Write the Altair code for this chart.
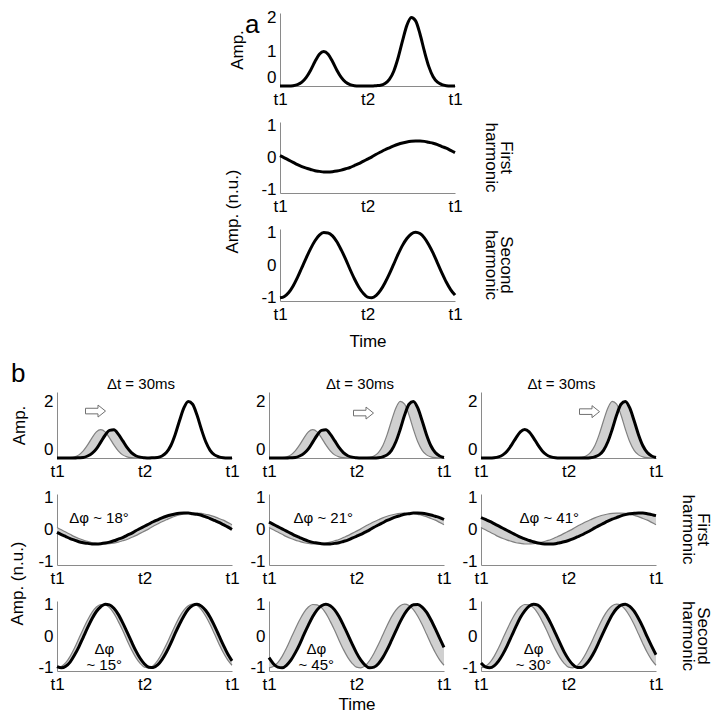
import json
import altair as alt
import pandas as pd

FONT = "Liberation Sans"
GRAY = "#808080"
FILL = "#d0d0d0"

# ---- data (x in fractions of the t1..t1 window) ----
x_tick_values = [0, 0.5, 1]
x_tick_labels = ["t1", "t2", "t1"]
xs = [i / 40 for i in range(41)]

amp_orig = [0, 0, 0, 0.01, 0.04, 0.11, 0.25, 0.46, 0.71, 0.92, 1.00, 0.92, 0.71, 0.46, 0.25,
            0.11, 0.04, 0.01, 0, 0, 0, 0, 0.01, 0.02, 0.07, 0.19, 0.43, 0.82, 1.31, 1.76, 1.99,
            1.89, 1.51, 1.01, 0.57, 0.27, 0.11, 0.04, 0.01, 0, 0]
amp_b1 = [0, 0, 0, 0, 0, 0.01, 0.02, 0.07, 0.16, 0.32, 0.56, 0.80, 0.97, 0.99, 0.84,
          0.61, 0.37, 0.19, 0.08, 0.03, 0.01, 0, 0.01, 0.02, 0.07, 0.19, 0.43, 0.82, 1.31, 1.76,
          1.99, 1.89, 1.51, 1.01, 0.57, 0.27, 0.11, 0.04, 0.01, 0, 0]
amp_b2 = [0, 0, 0, 0, 0, 0.01, 0.02, 0.07, 0.16, 0.32, 0.56, 0.80, 0.97, 0.99, 0.84,
          0.61, 0.37, 0.19, 0.08, 0.03, 0.01, 0, 0, 0, 0, 0.01, 0.04, 0.11, 0.27, 0.57,
          1.01, 1.51, 1.89, 1.99, 1.76, 1.31, 0.82, 0.43, 0.19, 0.07, 0.02]
amp_b3 = [0, 0, 0, 0.01, 0.04, 0.11, 0.25, 0.46, 0.71, 0.92, 1.00, 0.92, 0.71, 0.46, 0.25,
          0.11, 0.04, 0.01, 0, 0, 0, 0, 0, 0, 0, 0.01, 0.04, 0.11, 0.27, 0.57,
          1.01, 1.51, 1.89, 1.99, 1.76, 1.31, 0.82, 0.43, 0.19, 0.07, 0.02]

h1_orig = [0.06, -0.01, -0.08, -0.15, -0.22, -0.28, -0.33, -0.37, -0.41, -0.43, -0.45, -0.45,
           -0.44, -0.42, -0.39, -0.35, -0.31, -0.25, -0.19, -0.12, -0.05, 0.02, 0.10, 0.17,
           0.24, 0.30, 0.36, 0.41, 0.45, 0.48, 0.50, 0.51, 0.51, 0.50, 0.47, 0.44, 0.40, 0.34,
           0.29, 0.22, 0.15]
h1_b1 = [-0.09, -0.16, -0.22, -0.28, -0.33, -0.38, -0.41, -0.43, -0.45, -0.45, -0.44, -0.42,
         -0.39, -0.35, -0.30, -0.25, -0.18, -0.12, -0.04, 0.03, 0.10, 0.17, 0.24, 0.30, 0.36,
         0.41, 0.45, 0.48, 0.50, 0.51, 0.51, 0.49, 0.47, 0.44, 0.39, 0.34, 0.28, 0.22, 0.15,
         0.08, 0.00]
h1_b2 = [0.23, 0.16, 0.09, 0.02, -0.05, -0.12, -0.19, -0.25, -0.31, -0.36, -0.40, -0.42,
         -0.44, -0.45, -0.45, -0.43, -0.41, -0.37, -0.33, -0.27, -0.21, -0.15, -0.08, -0.01,
         0.07, 0.14, 0.21, 0.28, 0.34, 0.39, 0.43, 0.47, 0.49, 0.51, 0.51, 0.50, 0.48, 0.45,
         0.41, 0.37, 0.31]
h1_b3 = [0.37, 0.31, 0.25, 0.18, 0.11, 0.04, -0.03, -0.10, -0.17, -0.24, -0.29, -0.34, -0.38,
         -0.42, -0.44, -0.45, -0.45, -0.44, -0.41, -0.38, -0.34, -0.29, -0.23, -0.17, -0.10,
         -0.03, 0.05, 0.12, 0.19, 0.26, 0.32, 0.37, 0.42, 0.46, 0.49, 0.50, 0.51, 0.51, 0.49,
         0.46, 0.43]

h2_orig = [-1.00, -0.96, -0.84, -0.64, -0.38, -0.08, 0.22, 0.50, 0.74, 0.91, 0.99, 0.98, 0.89,
           0.71, 0.46, 0.18, -0.13, -0.42, -0.67, -0.86, -0.98, -1.00, -0.93, -0.77, -0.54,
           -0.27, 0.03, 0.33, 0.60, 0.81, 0.95, 1.00, 0.96, 0.83, 0.62, 0.36, 0.06, -0.24,
           -0.52, -0.75, -0.92]
h2_b1 = [-0.96, -1.00, -0.95, -0.82, -0.60, -0.34, -0.04, 0.26, 0.54, 0.77, 0.92, 1.00, 0.98,
         0.87, 0.68, 0.42, 0.13, -0.17, -0.46, -0.70, -0.88, -0.98, -0.99, -0.91, -0.74, -0.51,
         -0.23, 0.08, 0.37, 0.63, 0.84, 0.96, 1.00, 0.94, 0.80, 0.59, 0.32, 0.02, -0.28, -0.56,
         -0.78]
h2_b2 = [-0.68, -0.87, -0.98, -1.00, -0.92, -0.76, -0.53, -0.26, 0.05, 0.34, 0.61, 0.82, 0.95,
         1.00, 0.95, 0.82, 0.61, 0.34, 0.05, -0.25, -0.53, -0.76, -0.92, -1.00, -0.98, -0.87,
         -0.68, -0.43, -0.14, 0.16, 0.45, 0.70, 0.88, 0.98, 0.99, 0.91, 0.75, 0.51, 0.23, -0.07,
         -0.36]
h2_b3 = [-0.85, -0.97, -1.00, -0.94, -0.79, -0.57, -0.30, 0.00, 0.30, 0.58, 0.79, 0.94, 1.00,
         0.97, 0.84, 0.64, 0.38, 0.09, -0.21, -0.50, -0.73, -0.90, -0.99, -0.99, -0.89, -0.71,
         -0.47, -0.18, 0.12, 0.41, 0.67, 0.86, 0.97, 1.00, 0.93, 0.78, 0.55, 0.28, -0.03, -0.32,
         -0.59]

dt_text = ["Δt = 30ms", "Δt = 30ms", "Δt = 30ms"]
dt_x = [0.48, 0.52, 0.46]
dt_y = [2.6, 2.6, 2.6]
arrow_x = [0.22, 0.54, 0.62]
arrow_y = [1.65, 1.58, 1.63]
dphi1_text = ["Δφ ~ 18°", "Δφ ~ 21°", "Δφ ~ 41°"]
dphi1_x = [0.24, 0.31, 0.39]
dphi1_y = [0.36, 0.36, 0.36]
dphi2_text = ["Δφ\n~ 15°", "Δφ\n~ 45°", "Δφ\n~ 30°"]
dphi2_x = [0.27, 0.27, 0.30]
dphi2_y = [-0.4, -0.4, -0.4]

# ---- layout constants (pixels) ----
PW = 175          # plot width
CELL = 186        # grid cell width
A_OFF = 11        # panel a plot offset inside its cell
FS = 17           # tick / title font size

label_expr = "%s[indexof(%s, datum.value)]" % (json.dumps(x_tick_labels), json.dumps(x_tick_values))


def xaxis(title, tpad):
    return alt.Axis(values=x_tick_values, labelExpr=label_expr, title=title,
                    labelFlush=False, labelPadding=5, titlePadding=tpad)


def panel(gray, black, ydom, yvals, height, xoff=0, ytitle="", ytitle_x=-34, ytitle_y=None,
          xtitle="", xtpad=7, title=None, texts=None, arrows=None):
    xscale = alt.Scale(domain=[0, 1], range=[xoff, xoff + PW], nice=False, zero=False)
    df = pd.DataFrame({"x": xs, "black": black})
    if gray is not None:
        df["gray"] = gray
    kw = dict(values=yvals, labelExpr="'' + datum.value", title=ytitle, titleX=ytitle_x,
              labelFlush=True, offset=-xoff)
    if ytitle_y is not None:
        kw["titleY"] = ytitle_y
    yaxis = alt.Axis(**kw)
    yscale = alt.Scale(domain=ydom, nice=False, zero=False)

    def X(f="x"):
        return alt.X(f + ":Q", scale=xscale, axis=xaxis(xtitle, xtpad))

    def Y(f):
        return alt.Y(f + ":Q", scale=yscale, axis=yaxis)

    base = alt.Chart(df)
    layers = []
    if gray is not None:
        layers.append(base.mark_area(color=FILL, opacity=1, interpolate="monotone")
                      .encode(x=X(), y=Y("gray"), y2="black"))
        layers.append(base.mark_line(color=GRAY, strokeWidth=1.2, interpolate="monotone")
                      .encode(x=X(), y=Y("gray")))
    layers.append(base.mark_line(color="black", strokeWidth=3, interpolate="monotone")
                  .encode(x=X(), y=Y("black")))
    if texts is not None:
        tdf = pd.DataFrame({"x": [texts[0]], "y": [texts[1]], "t": [texts[2]]})
        layers.append(alt.Chart(tdf).mark_text(font=FONT, fontSize=15, color="black",
                                               lineBreak="\n", lineHeight=16)
                      .encode(x=X(), y=Y("y"), text="t:N"))
    if arrows is not None:
        adf = pd.DataFrame({"x": [arrows[0]], "y": [arrows[1]]})
        layers.append(alt.Chart(adf).mark_point(
            shape="M-1,-0.28L0.25,-0.28L0.25,-0.6L1,0L0.25,0.6L0.25,0.28L-1,0.28Z",
            filled=True, fill="white", stroke="#707070", strokeWidth=1, size=400, opacity=1)
            .encode(x=X(), y=Y("y")))
    ch = alt.layer(*layers).properties(width=CELL, height=height)
    if title is not None:
        ch = ch.properties(title=title)
    return ch


def right_title(lines, offset):
    return alt.TitleParams(text=lines, orient="right", anchor="middle", angle=90, frame="group",
                           offset=offset, fontSize=FS, font=FONT, fontWeight="normal",
                           lineHeight=15)


def letter(t, dx, dy):
    return alt.TitleParams(t, orient="top", anchor="start", frame="group", offset=0, dx=dx, dy=dy,
                           baseline="alphabetic", fontSize=26, font=FONT, fontWeight="normal")


def blank(height):
    return alt.Chart(pd.DataFrame({"x": [0]})).mark_point(opacity=0, size=0).encode(
        x=alt.X("x:Q", axis=None), y=alt.Y("x:Q", axis=None)).properties(width=CELL, height=height)


amp_dom_a = [0, 2.12]
amp_dom_b = [0, 2.32]
h_dom = [-1.1, 1.1]

a1 = panel(None, amp_orig, amp_dom_a, [0, 1, 2], 73, xoff=A_OFF, ytitle="Amp.",
           title=letter("a", -24, 51))
a2 = panel(None, h1_orig, h_dom, [-1, 0, 1], 71, xoff=A_OFF, ytitle="Amp. (n.u.)",
           ytitle_x=-39, ytitle_y=89, title=right_title(["First", "harmonic"], 20))
a3 = panel(None, h2_orig, h_dom, [-1, 0, 1], 72, xoff=A_OFF, xtitle="Time", xtpad=11,
           title=right_title(["Second", "harmonic"], 20))

amp_b = [amp_b1, amp_b2, amp_b3]
h1_b = [h1_b1, h1_b2, h1_b3]
h2_b = [h2_b1, h2_b2, h2_b3]
row1, row2, row3 = [], [], []
RT_B = 23 - (CELL - PW)
for i in range(3):
    row1.append(panel(amp_orig, amp_b[i], amp_dom_b, [0, 2], 66,
                      ytitle="Amp." if i == 0 else "", ytitle_x=-29,
                      texts=(dt_x[i], dt_y[i], dt_text[i]), arrows=(arrow_x[i], arrow_y[i]),
                      title=letter("b", -46, 31) if i == 0 else None))
    row2.append(panel(h1_orig, h1_b[i], h_dom, [-1, 0, 1], 71,
                      ytitle="Amp. (n.u.)" if i == 0 else "", ytitle_x=-31, ytitle_y=89,
                      texts=(dphi1_x[i], dphi1_y[i], dphi1_text[i]),
                      title=right_title(["First", "harmonic"], RT_B) if i == 2 else None))
    row3.append(panel(h2_orig, h2_b[i], h_dom, [-1, 0, 1], 70,
                      xtitle="Time" if i == 1 else "", xtpad=4,
                      texts=(dphi2_x[i], dphi2_y[i], dphi2_text[i]),
                      title=right_title(["Second", "harmonic"], RT_B) if i == 2 else None))

GAP = 19
cells = [blank(73), a1, blank(73),
         blank(71), a2, blank(71),
         blank(72), a3, blank(72),
         blank(GAP), blank(GAP), blank(GAP)] + row1 + row2 + row3

chart = alt.concat(*cells, columns=3, spacing={"row": 36, "column": 212 - CELL},
                   bounds="flush").properties(padding=0)
chart = chart.configure_view(stroke=None).configure_axis(
    domainColor="#8a8a8a", domainWidth=1, ticks=False, grid=False,
    labelFont=FONT, labelFontSize=FS, labelColor="black", labelPadding=4,
    titleFont=FONT, titleFontSize=FS, titleFontWeight="normal", titleColor="black"
).configure_title(font=FONT, fontWeight="normal", color="black")

chart.save("out.html", embed_options={"renderer": "svg", "actions": False})
